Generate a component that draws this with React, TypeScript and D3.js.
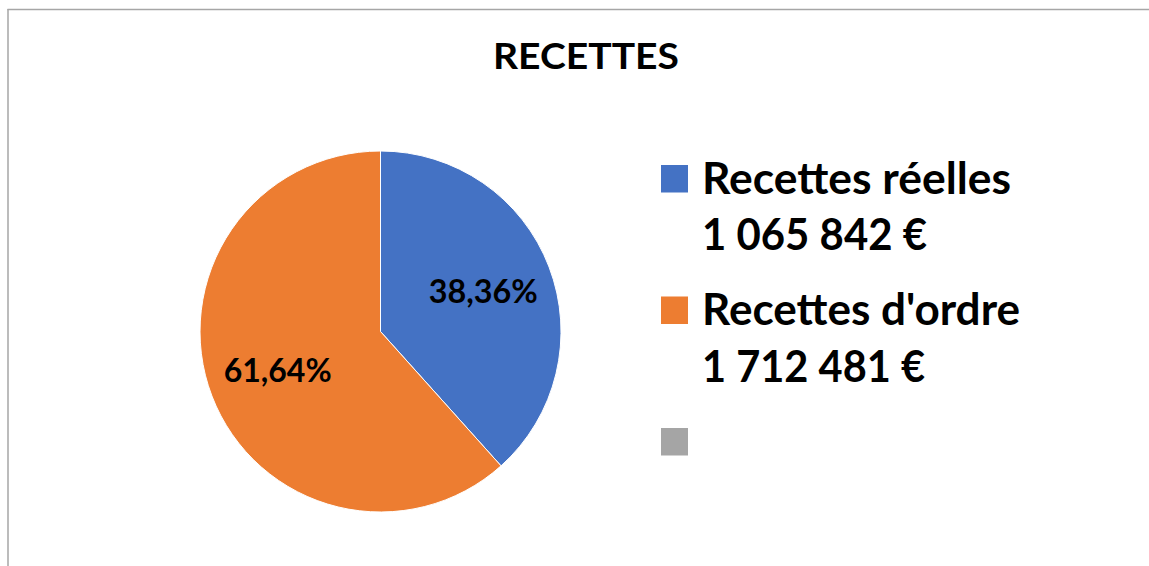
import React from "react";
import * as d3 from "d3";

const categories = ["Recettes réelles", "Recettes d'ordre", ""];
const amountLabels = ["1 065 842 €", "1 712 481 €", ""];
const values = [1065842, 1712481, 0];
const colors = ["#4472C4", "#ED7D31", "#A5A5A5"];
const title = "RECETTES";

const W = 1149;
const H = 566;
const FONT = "Lato, 'Open Sans', sans-serif";

export default function App() {
  const cx = 380.5;
  const cy = 331.5;
  const r = 180.5;
  const total = d3.sum(values);
  const pie = d3
    .pie<number>()
    .sort(null)
    .value((d) => d)
    .startAngle(0)
    .endAngle(2 * Math.PI);
  const arcs = pie(values);
  const arc = d3.arc<d3.PieArcDatum<number>>().innerRadius(0).outerRadius(r);
  const labelArc = d3
    .arc<d3.PieArcDatum<number>>()
    .innerRadius(r * 0.61)
    .outerRadius(r * 0.61);
  const fmt = (v: number) =>
    (v * 100).toFixed(2).replace(".", ",") + "%";

  const legendY = d3.scalePoint<string>().domain(["0", "1", "2"]).range([165, 428]);
  const labelWidths = [109, 108];
  const nameWidths = [309, 318];
  const amountWidths = [225, 223];

  return (
    <div style={{ position: "absolute", left: 0, top: 0 }}>
      <svg width={W} height={H} style={{ display: "block" }}>
        <rect x={0} y={0} width={W} height={H} fill="#fff" />
        <line x1={7.5} y1={9.5} x2={W} y2={9.5} stroke="#a6a6a6" strokeWidth={1.5} />
        <line x1={8} y1={9} x2={8} y2={H} stroke="#a6a6a6" strokeWidth={1.5} />
        <text
          x={586}
          y={69}
          textAnchor="middle"
          fontFamily={FONT}
          fontWeight={700}
          fontSize={35.5}
          textLength={186}
          lengthAdjust="spacingAndGlyphs"
          fill="#000"
        >
          {title}
        </text>
        <g transform={`translate(${cx},${cy})`}>
          {arcs.map((a, i) =>
            a.value > 0 ? (
              <path key={i} d={arc(a) || ""} fill={colors[i]} stroke="#fff" strokeWidth={1} />
            ) : null
          )}
          {arcs.map((a, i) => {
            if (a.value <= 0) return null;
            const [lx, ly] = labelArc.centroid(a);
            return (
              <text
                key={"l" + i}
                x={lx}
                y={ly + 11}
                textAnchor="middle"
                fontFamily={FONT}
                fontWeight={700}
                fontSize={33}
                textLength={labelWidths[i]}
                lengthAdjust="spacingAndGlyphs"
                fill="#000"
              >
                {fmt(a.value / total)}
              </text>
            );
          })}
        </g>
        {categories.map((c, i) => {
          const y0 = legendY(String(i)) as number;
          return (
            <g key={"lg" + i}>
              <rect x={661} y={y0} width={27} height={27.5} fill={colors[i]} />
              {c && (
                <text
                  x={702}
                  y={y0 + 28.8}
                  fontFamily={FONT}
                  fontWeight={700}
                  fontSize={44}
                  textLength={nameWidths[i]}
                  lengthAdjust="spacingAndGlyphs"
                  fill="#000"
                >
                  {c}
                </text>
              )}
              {amountLabels[i] && (
                <text
                  x={702}
                  y={y0 + 85}
                  fontFamily={FONT}
                  fontWeight={700}
                  fontSize={44}
                  textLength={amountWidths[i]}
                  lengthAdjust="spacingAndGlyphs"
                  fill="#000"
                >
                  {amountLabels[i]}
                </text>
              )}
            </g>
          );
        })}
      </svg>
    </div>
  );
}
